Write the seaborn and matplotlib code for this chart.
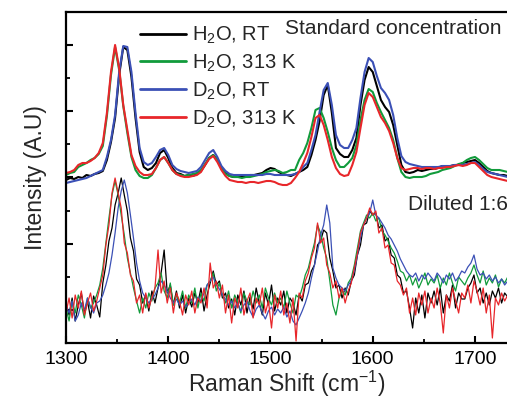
import numpy as np
import pandas as pd
import matplotlib
matplotlib.use("Agg")
import matplotlib.pyplot as plt
from matplotlib.lines import Line2D
import seaborn as sns

# ---------------- data ----------------
series_names = ["H$_2$O, RT", "H$_2$O, 313 K", "D$_2$O, RT", "D$_2$O, 313 K"]
colors = ["#000000", "#119b3b", "#3b50b6", "#e8262a"]

# standard concentration (upper traces), Raman shift grid in cm^-1
shift_std = list(range(1300, 1733, 4))
std_h2o_rt = [163, 165, 164, 166, 165, 168, 167, 169, 170, 172,
              183, 201, 225, 268, 296, 293, 266, 225, 191, 176,
              173, 175, 180, 190, 193, 185, 175, 170, 169, 167,
              168, 167, 169, 172, 178, 185, 188, 183, 175, 170,
              167, 166, 166, 167, 167, 168, 168, 169, 170, 173,
              175, 174, 171, 169, 168, 167, 169, 171, 173, 176,
              188, 203, 222, 248, 258, 230, 195, 189, 186, 186,
              193, 205, 238, 263, 276, 271, 257, 243, 236, 231,
              218, 198, 178, 171, 170, 171, 173, 172, 173, 174,
              174, 175, 177, 176, 177, 178, 178, 180, 181, 182,
              183, 180, 176, 172, 170, 169, 168, 168, 167]
std_h2o_313 = [168, 170, 171, 176, 178, 180, 183, 185, 189, 197,
               227, 268, 296, 273, 237, 210, 186, 173, 167, 165,
               165, 168, 175, 183, 186, 180, 173, 169, 168, 167,
               168, 169, 170, 173, 179, 185, 188, 183, 175, 169,
               167, 166, 166, 165, 166, 166, 167, 168, 169, 171,
               172, 173, 172, 170, 171, 173, 173, 183, 190, 200,
               215, 233, 235, 225, 211, 195, 183, 176, 176, 180,
               185, 198, 223, 243, 254, 251, 240, 231, 223, 215,
               203, 185, 171, 166, 165, 166, 166, 166, 167, 169,
               170, 171, 173, 174, 175, 177, 179, 180, 183, 185,
               186, 183, 179, 175, 173, 173, 173, 172, 171]
std_d2o_rt = [160, 161, 162, 163, 164, 165, 167, 169, 171, 173,
              186, 203, 228, 271, 297, 296, 271, 230, 195, 181,
              178, 180, 186, 193, 195, 188, 178, 174, 172, 171,
              170, 171, 172, 176, 183, 190, 193, 186, 177, 172,
              169, 168, 168, 168, 168, 168, 168, 168, 168, 169,
              169, 168, 168, 168, 168, 168, 169, 171, 176, 180,
              193, 208, 231, 253, 260, 238, 208, 198, 195, 195,
              203, 215, 245, 271, 285, 281, 267, 255, 250, 243,
              228, 205, 187, 181, 179, 178, 177, 176, 176, 176,
              176, 176, 177, 177, 177, 178, 178, 178, 179, 180,
              181, 178, 174, 171, 170, 169, 168, 167, 166]
std_d2o_313 = [170, 171, 173, 178, 180, 180, 182, 185, 190, 200,
               230, 271, 298, 275, 238, 213, 188, 177, 171, 168,
               168, 169, 175, 183, 186, 180, 173, 169, 167, 166,
               166, 167, 168, 171, 178, 184, 187, 181, 173, 167,
               163, 162, 161, 161, 160, 161, 161, 160, 161, 162,
               162, 161, 159, 158, 158, 160, 165, 171, 180, 190,
               206, 225, 228, 218, 203, 186, 175, 169, 167, 168,
               178, 191, 215, 238, 250, 246, 236, 226, 220, 212,
               200, 185, 175, 173, 174, 175, 175, 174, 175, 175,
               174, 175, 175, 176, 176, 177, 178, 177, 178, 180,
               180, 176, 172, 168, 166, 165, 164, 163, 162]

# diluted 1:6 (lower traces)
shift_dil = list(range(1300, 1733, 3))
dil_h2o_rt = [40, 28, 45, 22, 38, 50, 30, 42, 25, 47,
              38, 26, 60, 78, 102, 115, 138, 150, 165, 148,
              132, 105, 92, 64, 58, 40, 48, 32, 52, 40,
              55, 70, 93, 50, 58, 38, 52, 35, 48, 30,
              45, 36, 50, 40, 55, 32, 48, 60, 72, 58,
              62, 45, 50, 35, 44, 28, 48, 38, 52, 30,
              46, 34, 55, 40, 28, 50, 38, 58, 32, 45,
              38, 52, 30, 45, 40, 28, 48, 42, 58, 60,
              72, 78, 98, 102, 113, 110, 85, 72, 55, 58,
              45, 55, 48, 62, 68, 88, 98, 118, 120, 132,
              128, 130, 115, 118, 102, 105, 88, 85, 68, 65,
              50, 52, 35, 15, 45, 30, 48, 25, 50, 40,
              52, 38, 55, 30, 48, 42, 58, 35, 50, 44,
              44, 55, 60, 68, 50, 55, 40, 50, 38, 52,
              45, 55, 40, 50, 46]
dil_h2o_313 = [35, 22, 42, 30, 48, 38, 25, 45, 35, 40,
               48, 58, 75, 100, 125, 148, 162, 148, 128, 108,
               85, 70, 55, 42, 30, 45, 35, 50, 42, 55,
               60, 70, 52, 45, 60, 38, 48, 40, 52, 35,
               48, 40, 55, 35, 50, 42, 58, 62, 70, 52,
               60, 48, 40, 52, 35, 48, 40, 30, 50, 42,
               38, 52, 40, 48, 35, 55, 45, 38, 50, 40,
               45, 35, 52, 40, 30, 48, 45, 55, 68, 75,
               88, 100, 118, 110, 95, 85, 62, 38, 28, 45,
               52, 48, 60, 65, 78, 95, 112, 120, 128, 125,
               130, 122, 125, 112, 108, 102, 95, 90, 82, 72,
               70, 62, 68, 58, 65, 55, 62, 70, 58, 64,
               60, 68, 55, 65, 58, 70, 60, 52, 66, 62,
               58, 65, 70, 78, 68, 60, 72, 58, 65, 60,
               68, 56, 64, 60, 66]
dil_d2o_rt = [38, 30, 42, 22, 28, 40, 33, 45, 36, 30,
              40, 42, 48, 58, 70, 88, 110, 135, 152, 163,
              150, 128, 105, 80, 62, 50, 45, 40, 44, 48,
              55, 62, 58, 52, 45, 40, 44, 38, 42, 36,
              40, 44, 38, 46, 42, 50, 58, 62, 66, 58,
              54, 48, 44, 38, 42, 35, 40, 32, 38, 42,
              32, 26, 34, 38, 30, 24, 32, 36, 28, 34,
              30, 36, 26, 32, 22, 18, 25, 32, 40, 50,
              65, 78, 92, 108, 118, 138, 120, 75, 65, 58,
              55, 52, 58, 62, 72, 88, 105, 118, 125, 130,
              143, 128, 125, 120, 115, 108, 104, 98, 92, 84,
              78, 72, 68, 66, 70, 62, 68, 64, 70, 66,
              62, 70, 66, 60, 68, 64, 70, 62, 66, 72,
              70, 76, 80, 88, 74, 68, 70, 64, 68, 62,
              66, 60, 64, 58, 62]
dil_d2o_313 = [30, 45, 25, 48, 35, 52, 28, 40, 50, 32,
               42, 55, 68, 98, 118, 150, 165, 150, 135, 100,
               90, 68, 62, 40, 48, 30, 50, 35, 45, 55,
               93, 50, 62, 40, 55, 30, 50, 42, 28, 48,
               38, 52, 30, 45, 40, 55, 35, 80, 55, 62,
               45, 58, 30, 48, 20, 45, 35, 55, 28, 42,
               50, 25, 45, 38, 55, 30, 42, 15, 48, 35,
               52, 28, 40, 20, 45, 2, 50, 45, 62, 70,
               85, 95, 120, 100, 105, 78, 70, 55, 62, 45,
               55, 40, 52, 60, 75, 90, 110, 118, 125, 135,
               128, 132, 110, 115, 95, 98, 80, 78, 62, 58,
               48, 55, 30, 45, 28, 50, 38, 52, 30, 45,
               35, 55, 40, 10, 48, 35, 55, 42, 30, 50,
               45, 58, 40, 62, 52, 38, 55, 30, 48, 5,
               45, 38, 50, 42, 48]

x_ticks = [1300, 1400, 1500, 1600, 1700]

# ---------------- frames ----------------
std_vals = [std_h2o_rt, std_h2o_313, std_d2o_rt, std_d2o_313]
dil_vals = [dil_h2o_rt, dil_h2o_313, dil_d2o_rt, dil_d2o_313]
df_std = pd.concat([pd.DataFrame({"shift": shift_std, "intensity": v, "sample": n})
                    for n, v in zip(series_names, std_vals)], ignore_index=True)
df_dil = pd.concat([pd.DataFrame({"shift": shift_dil, "intensity": v, "sample": n})
                    for n, v in zip(series_names, dil_vals)], ignore_index=True)

# ---------------- style ----------------
sns.set_style("ticks")
plt.rcParams["font.family"] = ["Liberation Sans", "DejaVu Sans"]
plt.rcParams["mathtext.fontset"] = "custom"
plt.rcParams["mathtext.rm"] = "Liberation Sans"
plt.rcParams["mathtext.it"] = "Liberation Sans"
plt.rcParams["mathtext.default"] = "regular"

W, H = 507, 397
fig = plt.figure(figsize=(W / 100, H / 100), dpi=100)
ax = fig.add_axes([66 / W, 54 / H, 441 / W, 331 / H])

pal = dict(zip(series_names, colors))
sns.lineplot(data=df_dil, x="shift", y="intensity", hue="sample", hue_order=series_names,
             palette=pal, estimator=None, sort=False, lw=0.9, ax=ax, legend=False)
sns.lineplot(data=df_std, x="shift", y="intensity", hue="sample", hue_order=series_names,
             palette=pal, estimator=None, sort=False, lw=1.5, ax=ax, legend=False)

ax.set_xticks(x_ticks)
ax.set_xticks([1350, 1450, 1550, 1650], minor=True)
ax.set_yticks([33, 99, 166, 232, 298])
ax.set_yticks([66, 132, 199, 265], minor=True)
ax.set_yticklabels([])
ax.set_xlim(1300, 1731.3)
ax.set_ylim(0, 331)
ax.tick_params(axis="both", which="major", direction="in", length=5, width=1.5,
               labelsize=14, pad=6, color="black", labelcolor="black")
ax.tick_params(axis="both", which="minor", direction="in", length=3, width=1.3, color="black")
ax.tick_params(axis="y", which="both", left=True, right=False)
ax.tick_params(axis="x", which="both", bottom=True, top=False)

for side in ["left", "bottom", "top"]:
    ax.spines[side].set_linewidth(1.6)
    ax.spines[side].set_color("black")
ax.spines["right"].set_visible(False)

ax.set_xlabel("Raman Shift (cm$^{-1}$)", fontsize=16.5, labelpad=0)
ax.set_ylabel("Intensity (A.U)", fontsize=16.5, labelpad=8)

handles = [Line2D([0], [0], color=c, lw=2.0) for c in colors]
leg = ax.legend(handles, series_names, loc="upper left", bbox_to_anchor=(0.168, 0.962),
                frameon=False, fontsize=14.5, handlelength=2.3, handletextpad=0.3,
                labelspacing=0.33, borderpad=0, borderaxespad=0)

ax.text(1514, 315, "Standard concentration", fontsize=15, ha="left", va="center")
ax.text(1634.5, 138, "Diluted 1:6", fontsize=15, ha="left", va="center")

fig.savefig("out.png", dpi=100)
